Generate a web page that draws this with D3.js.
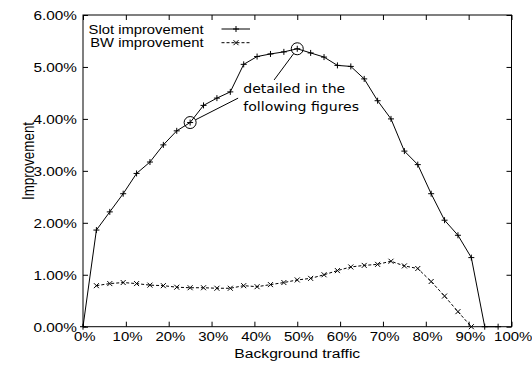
<!DOCTYPE html>
<html>
<head>
<meta charset="utf-8">
<script src="https://cdn.jsdelivr.net/npm/d3@7"></script>
<style>
  html, body { margin: 0; padding: 0; background: #fff; }
  svg { display: block; }
</style>
</head>
<body>
<svg id="chart" width="532" height="365"></svg>
<script>
// ---- data ----
const slotTraffic = [0, 3.125, 6.25, 9.375, 12.5, 15.625, 18.75, 21.875, 25, 28.125, 31.25, 34.375,
  37.5, 40.625, 43.75, 46.875, 50, 53.125, 56.25, 59.375, 62.5, 65.625, 68.75, 71.875, 75,
  78.125, 81.25, 84.375, 87.5, 90.625, 93.75, 96.875];
const slotValues = [0, 1.86, 2.21, 2.56, 2.95, 3.17, 3.50, 3.77, 3.93, 4.26, 4.40, 4.52,
  5.05, 5.20, 5.25, 5.29, 5.35, 5.27, 5.19, 5.03, 5.01, 4.77, 4.35, 4.00, 3.38,
  3.12, 2.56, 2.05, 1.76, 1.33, 0, 0];
const bwTraffic = [3.125, 6.25, 9.375, 12.5, 15.625, 18.75, 21.875, 25, 28.125, 31.25, 34.375,
  37.5, 40.625, 43.75, 46.875, 50, 53.125, 56.25, 59.375, 62.5, 65.625, 68.75, 71.875, 75,
  78.125, 81.25, 84.375, 87.5, 90.625];
const bwValues = [0.79, 0.83, 0.85, 0.83, 0.80, 0.79, 0.76, 0.75, 0.75, 0.74, 0.74,
  0.79, 0.77, 0.81, 0.85, 0.90, 0.93, 1.00, 1.08, 1.15, 1.18, 1.20, 1.26, 1.17,
  1.12, 0.87, 0.59, 0.29, 0.0];
const xTicks = [0, 10, 20, 30, 40, 50, 60, 70, 80, 90, 100];
const yTicks = [0, 1, 2, 3, 4, 5, 6];
const seriesNames = ["Slot improvement", "BW improvement"];
const xTitle = "Background traffic";
const yTitle = "Improvement";
const noteLines = ["detailed in the", "following figures"];
const highlighted = [[25, 3.93], [50, 5.35]];
const noteLineEnds = [[36.2, 4.40], [44.6, 4.75]];
const noteAnchor = [37.4, 4.50];

// ---- layout ----
const L = 83, R = 511.5, T = 15, B = 326.7;
const SX = 1.18; // horizontal stretch of text in the reference
const SANS = "'Liberation Sans', Arial, Helvetica, sans-serif";
const svg = d3.select("#chart");
const x = d3.scaleLinear().domain([0, 100]).range([L, R]);
const y = d3.scaleLinear().domain([0, 6]).range([B, T]);

function styleAxis(g) {
  g.select(".domain").remove();
  g.selectAll(".tick line").attr("stroke", "#000").attr("stroke-width", 1);
}
const gx = svg.append("g").attr("transform", `translate(0,${B})`)
  .call(d3.axisBottom(x).tickValues(xTicks).tickSize(-5).tickFormat(d => d + "%"));
styleAxis(gx);
gx.selectAll(".tick text")
  .attr("font-size", 13).attr("font-family", SANS).attr("fill", "#000")
  .attr("dy", null).attr("y", null)
  .attr("transform", `translate(1.2,14) scale(1.15,1)`);

const gy = svg.append("g").attr("transform", `translate(${L},0)`)
  .call(d3.axisLeft(y).tickValues(yTicks).tickSize(-5).tickFormat(d => d.toFixed(2) + "%"));
styleAxis(gy);
gy.selectAll(".tick text")
  .attr("font-size", 13).attr("font-family", SANS).attr("fill", "#000")
  .attr("dy", null).attr("x", null)
  .attr("transform", `translate(-6,4.6) scale(${SX},1)`);

const gt = svg.append("g").attr("transform", `translate(0,${T})`)
  .call(d3.axisTop(x).tickValues(xTicks).tickSize(-5).tickFormat(""));
styleAxis(gt);
const gr = svg.append("g").attr("transform", `translate(${R},0)`)
  .call(d3.axisRight(y).tickValues(yTicks).tickSize(-5).tickFormat(""));
styleAxis(gr);

svg.append("rect").attr("x", L).attr("y", T).attr("width", R - L).attr("height", B - T)
  .attr("fill", "none").attr("stroke", "#000").attr("stroke-width", 1);

svg.append("text").text(xTitle).attr("font-size", 13.5).attr("font-family", SANS)
  .attr("text-anchor", "middle")
  .attr("transform", `translate(${(L + R) / 2},358) scale(1.16,1)`);
svg.append("text").text(yTitle).attr("font-size", 13.4).attr("font-family", SANS)
  .attr("text-anchor", "middle")
  .attr("transform", `translate(33.5,161) scale(1.2,1) rotate(-90)`);

function plus(g, cx, cy, s) {
  g.append("path").attr("d", `M${cx - s},${cy}H${cx + s}M${cx},${cy - s}V${cy + s}`)
    .attr("stroke", "#000").attr("stroke-width", 1).attr("fill", "none");
}
function cross(g, cx, cy, s) {
  g.append("path").attr("d", `M${cx - s},${cy - s}L${cx + s},${cy + s}M${cx - s},${cy + s}L${cx + s},${cy - s}`)
    .attr("stroke", "#000").attr("stroke-width", 1).attr("fill", "none");
}

const slotData = slotTraffic.map((t, i) => [t, slotValues[i]]);
const bwData = bwTraffic.map((t, i) => [t, bwValues[i]]);
const line = d3.line().x(d => x(d[0])).y(d => y(d[1]));

const plot = svg.append("g");
plot.append("path").datum(slotData).attr("d", line)
  .attr("fill", "none").attr("stroke", "#000").attr("stroke-width", 1);
plot.append("path").datum(bwData).attr("d", line)
  .attr("fill", "none").attr("stroke", "#000").attr("stroke-width", 1)
  .attr("stroke-dasharray", "3,2");
slotData.forEach(d => plus(plot, x(d[0]), y(d[1]), 3));
bwData.forEach(d => cross(plot, x(d[0]), y(d[1]), 2.5));

const lg = svg.append("g");
seriesNames.forEach((name, i) => {
  const ly = 29 + i * 13.7;
  lg.append("text").text(name).attr("font-size", 13.2).attr("font-family", SANS)
    .attr("text-anchor", "end")
    .attr("transform", `translate(203.5,${ly + 4.6}) scale(1.12,1)`);
  lg.append("line").attr("x1", 221.5).attr("x2", 250).attr("y1", ly).attr("y2", ly)
    .attr("stroke", "#000").attr("stroke-width", 1)
    .attr("stroke-dasharray", i === 1 ? "3,2" : null);
  if (i === 0) plus(lg, 236, ly, 3); else cross(lg, 236, ly, 2.5);
});

const ann = svg.append("g");
highlighted.forEach((p, i) => {
  const cx = x(p[0]), cy = y(p[1]), r = 6;
  ann.append("circle").attr("cx", cx).attr("cy", cy).attr("r", r)
    .attr("fill", "none").attr("stroke", "#000").attr("stroke-width", 1);
  const ex = x(noteLineEnds[i][0]), ey = y(noteLineEnds[i][1]);
  const a = Math.atan2(ey - cy, ex - cx);
  ann.append("line").attr("x1", cx + r * Math.cos(a)).attr("y1", cy + r * Math.sin(a))
    .attr("x2", ex).attr("y2", ey).attr("stroke", "#000").attr("stroke-width", 1);
});
noteLines.forEach((t, i) => {
  ann.append("text").text(t).attr("font-size", 12.8)
    .attr("font-family", "'DejaVu Sans', sans-serif").attr("fill", "#000")
    .attr("transform", `translate(${x(noteAnchor[0])},${y(noteAnchor[1]) + i * 18}) scale(1.1,1)`);
});
</script>
</body>
</html>
